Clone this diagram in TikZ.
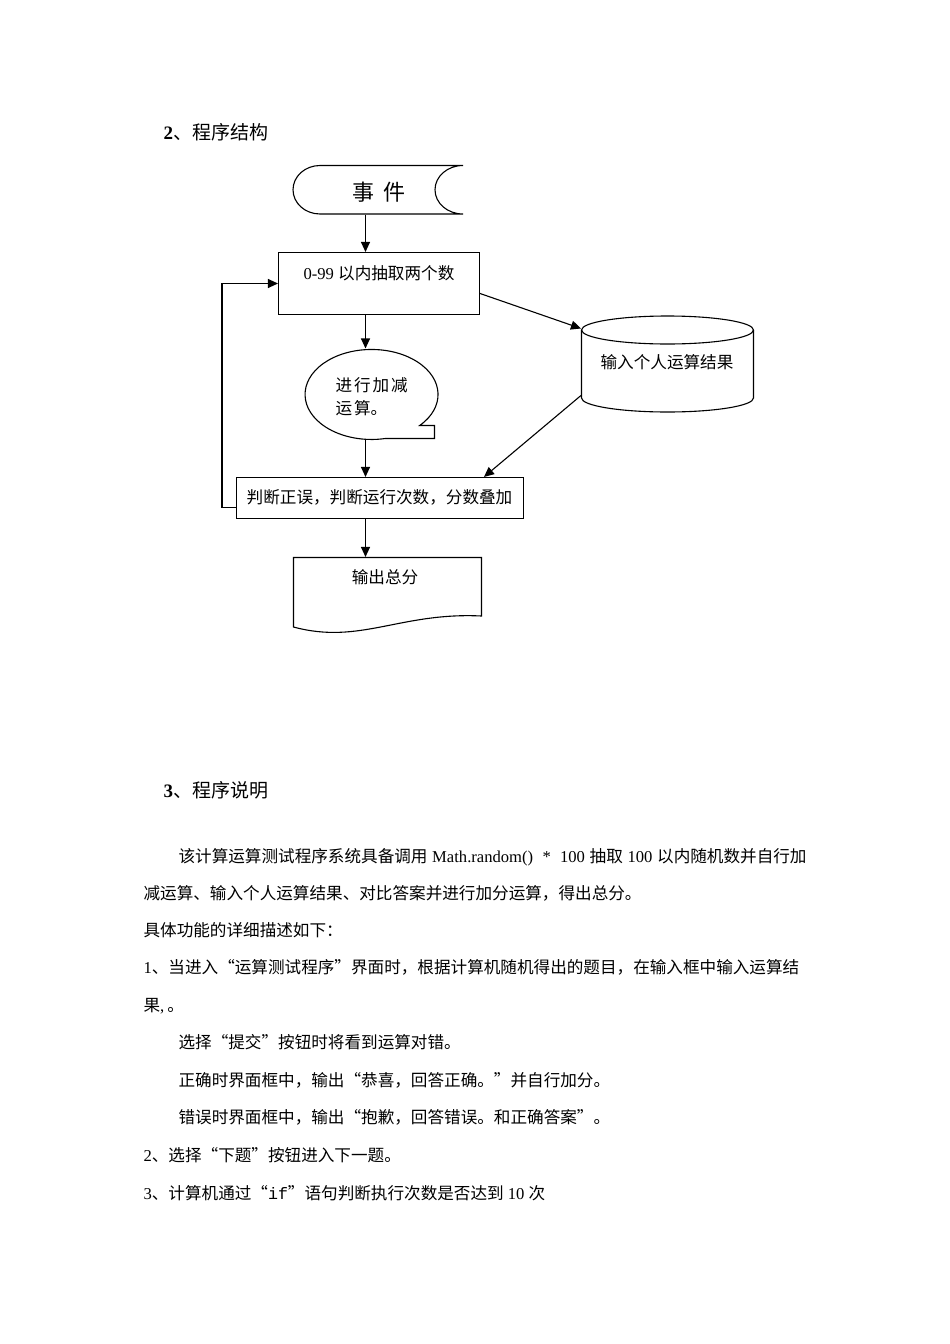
\documentclass[tikz,border=0pt]{standalone}
\usepackage{fontspec}
\setmainfont{Noto Sans CJK SC}
\newfontfamily\latf{Liberation Serif}
\newfontfamily\monof{Liberation Mono}
\usetikzlibrary{arrows.meta}
\XeTeXlinebreaklocale "zh"
\XeTeXlinebreakskip=0pt plus 1pt
\newcommand\bodyfont{\fontsize{16.6}{20}\selectfont}
\newcommand\headfont{\fontsize{19}{22}\selectfont}
\newcommand\jline[2]{\hbox to #1pt{#2}}
\tikzset{
  arr/.style={-{Triangle[length=10pt,width=9pt]}},
  boxst/.style={draw, inner sep=0},
  shapebox/.style={draw=none, inner sep=0},
  txt/.style={anchor=base, inner sep=0, font=\bodyfont},
  bodyline/.style={anchor=base west, inner sep=0, font=\bodyfont},
  headline/.style={anchor=base west, inner sep=0, font=\headfont},
}
\begin{document}
\begin{tikzpicture}[x=1pt, y=1pt, line width=1.1pt]
\useasboundingbox (0,0) rectangle (950,-1344);
\fill[white] (0,0) rectangle (950,-1344);

% heading
\node[headline] (h2) at (163,-139) {{\latf\bfseries 2}、程序结构};

\coordinate (spine) at (365.5,0);

% event shape
\draw (320,-165.5) -- (463,-165.5)
  arc[start angle=90, end angle=270, x radius=28, y radius=24.25]
  -- (320,-214)
  arc[start angle=270, end angle=90, x radius=27, y radius=24.25] -- cycle;
\node[shapebox, minimum width=172, minimum height=48.5] (event) at (379,-189.75) {};
\node[anchor=base, inner sep=0, font=\fontsize{22}{24}\selectfont] (eventt) at (379,-200.4) {事\hspace{10pt}件};

% pick box
\node[boxst, minimum width=201, minimum height=62] (pick) at (379,-283.5) {};
\node[txt] (pickt) at (379,-279.3) {{\latf 0-99 }以内抽取两个数};

% callout
\draw (419.7,-425.5) arc[start angle=-43.6, end angle=282.1, x radius=66.5, y radius=45]
  -- (434.5,-438.5) -- (434.5,-425.5) -- cycle;
\node[shapebox, minimum width=133, minimum height=90] (calc) at (371.5,-394) {};
\node[bodyline] (calc1) at (335,-391.3) {进\hspace{1.9pt}行\hspace{1.9pt}加\hspace{1.9pt}减};
\node[bodyline] (calc2) at (335,-414.3) {运\hspace{1.9pt}算。};

% database cylinder
\draw (581.5,-330) -- (581.5,-398)
  arc[start angle=180, end angle=360, x radius=86, y radius=14] -- (753.5,-330);
\draw (667.5,-330) ellipse[x radius=86, y radius=14];
\node[shapebox, minimum width=172, minimum height=97] (db) at (667.5,-363.5) {};
\node[txt] (dbt) at (667,-368.3) {输入个人运算结果};

% judge box
\node[boxst, minimum width=287, minimum height=41] (judge) at (380,-498) {};
\node[txt] (judget) at (379.5,-503.3) {判断正误，判断运行次数，分数叠加};

% document
\draw (293.5,-557.5) -- (481.5,-557.5) -- (481.5,-616)
  .. controls (400,-612) and (360,-645) .. (293.5,-627) -- cycle;
\node[shapebox, minimum width=188, minimum height=75] (out) at (387.5,-595) {};
\node[txt] (outt) at (385,-583.3) {输出总分};

% connectors
\draw[arr] (event.south -| spine) -- (pick.north -| spine);
\draw[arr] (pick.south -| spine) -- (calc.north -| spine);
\draw[arr] (calc.south -| spine) -- (judge.north -| spine);
\draw[arr] (judge.south -| spine) -- (out.north -| spine);
\draw[arr] ([yshift=-10]pick.east) -- ([yshift=35]db.west);
\draw[arr] ([yshift=-32]db.west) -- ([xshift=104]judge.north);
\draw[arr] ([yshift=-9.5]judge.west) -- ++(-14,0) |- (pick.west);

% section 3
\node[headline] (h3) at (163,-797.2) {{\latf\bfseries 3}、程序说明};
\node[bodyline] (l1) at (178,-862.3) {\jline{628}{该计算运算测试程序系统具备调用{\latf\ Math.random()\ \ *\ \ 100 }抽取{\latf\ 100 }以内随机数并自行加}};
\node[bodyline] (l2) at (143,-899.3) {减运算、输入个人运算结果、对比答案并进行加分运算，得出总分。};
\node[bodyline] (l3) at (143,-936.3) {具体功能的详细描述如下：};
\node[bodyline] (l4) at (143,-973.3) {\jline{663}{{\latf 1}、当进入“运算测试程序”界面时，根据计算机随机得出的题目，在输入框中输入运算结}};
\node[bodyline] (l5) at (143,-1011.3) {果{\latf ,}\hspace{3pt}。};
\node[bodyline] (l6) at (178,-1048.3) {选择“提交”按钮时将看到运算对错。};
\node[bodyline] (l7) at (178,-1086.3) {正确时界面框中，输出“恭喜，回答正确。”并自行加分。};
\node[bodyline] (l8) at (178,-1123.3) {错误时界面框中，输出“抱歉，回答错误。和正确答案”。};
\node[bodyline] (l9) at (143,-1161.3) {{\latf 2}、选择“下题”按钮进入下一题。};
\node[bodyline] (l10) at (143,-1199.3) {{\latf 3}、计算机通过“{\monof if}”语句判断执行次数是否达到{\latf\ 10 }次};
\end{tikzpicture}
\end{document}
